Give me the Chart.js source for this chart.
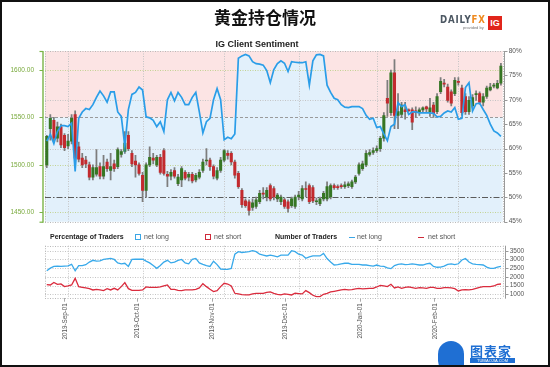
<!DOCTYPE html>
<html>
<head>
<meta charset="utf-8">
<script src="https://cdn.jsdelivr.net/npm/chart.js@4.4.1/dist/chart.umd.min.js"></script>
<style>
html,body{margin:0;padding:0;background:#fff;}
#wrap{position:relative;width:550px;height:367px;overflow:hidden;background:#fff;font-family:"Liberation Sans",Arial,sans-serif;}
#frame{position:absolute;left:0;top:0;width:550px;height:367px;border:2px solid #111;box-sizing:border-box;pointer-events:none;z-index:10;}
canvas{position:absolute;left:0;}
.t{position:absolute;white-space:nowrap;z-index:5;}
</style>
</head>
<body>
<div id="wrap">
  <canvas id="main" width="550" height="230" style="top:0"></canvas>
  <canvas id="bottom" width="550" height="127" style="top:240px"></canvas>

  <div class="t" style="left:0;width:530px;top:4px;text-align:center;font-family:'Noto Sans CJK SC';font-size:17px;font-weight:bold;color:#111;">黄金持仓情况</div>
  <div class="t" style="left:0;width:514px;top:39px;text-align:center;font-size:9px;font-weight:bold;color:#222;">IG Client Sentiment</div>

  <div class="t" style="left:440px;top:12.5px;font-family:'DejaVu Sans';font-size:10.5px;font-weight:bold;letter-spacing:1px;color:#4d5863;transform:scaleX(0.82);transform-origin:0 0;">DAILY<span style="color:#ef8a1f">FX</span></div>
  <div class="t" style="left:463px;top:25px;font-size:4px;color:#777;">provided by</div>
  <div class="t" style="left:488px;top:16px;width:14px;height:14px;background:#e1251b;color:#fff;font-size:9px;font-weight:bold;line-height:14px;text-align:center;">IG</div>

  <div class="t" style="left:50px;top:232.5px;font-size:7px;font-weight:bold;color:#222;">Percentage of Traders</div>
  <div class="t" style="left:135px;top:234px;width:4px;height:4px;border:1.5px solid #3aa6e6;"></div>
  <div class="t" style="left:144px;top:232.5px;font-size:7px;color:#555;">net long</div>
  <div class="t" style="left:205px;top:234px;width:4px;height:4px;border:1.5px solid #cf2a3a;"></div>
  <div class="t" style="left:214px;top:232.5px;font-size:7px;color:#555;">net short</div>
  <div class="t" style="left:275px;top:232.5px;font-size:7px;font-weight:bold;color:#222;">Number of Traders</div>
  <div class="t" style="left:349px;top:236.5px;width:6px;height:1.6px;background:#3aa6e6;"></div>
  <div class="t" style="left:357px;top:232.5px;font-size:7px;color:#555;">net long</div>
  <div class="t" style="left:418px;top:236.5px;width:6px;height:1.6px;background:#cf2a3a;"></div>
  <div class="t" style="left:428px;top:232.5px;font-size:7px;color:#555;">net short</div>

  <div class="t" style="left:438px;top:341px;width:26px;height:30px;border-radius:13px 13px 4px 10px;background:#1f6fd3;"></div>
  <div class="t" style="left:470px;top:341px;font-family:'Noto Sans CJK SC';font-size:13px;font-weight:bold;color:#1f6fd3;letter-spacing:1px;">图表家</div>
  <div class="t" style="left:470px;top:358px;width:45px;height:5px;background:#1f6fd3;color:#fff;font-size:4px;line-height:5px;text-align:center;">TUBIAOJIA.COM</div>

  <div id="frame"></div>
</div>
<script>
// ---------- categories (trading days) ----------
const dates = [
'2019-08-23','2019-08-26','2019-08-27','2019-08-28','2019-08-29','2019-08-30',
'2019-09-02','2019-09-03','2019-09-04','2019-09-05','2019-09-06','2019-09-09','2019-09-10','2019-09-11','2019-09-12','2019-09-13','2019-09-16','2019-09-17','2019-09-18','2019-09-19','2019-09-20','2019-09-23','2019-09-24','2019-09-25','2019-09-26','2019-09-27','2019-09-30',
'2019-10-01','2019-10-02','2019-10-03','2019-10-04','2019-10-07','2019-10-08','2019-10-09','2019-10-10','2019-10-11','2019-10-14','2019-10-15','2019-10-16','2019-10-17','2019-10-18','2019-10-21','2019-10-22','2019-10-23','2019-10-24','2019-10-25','2019-10-28','2019-10-29','2019-10-30','2019-10-31',
'2019-11-01','2019-11-04','2019-11-05','2019-11-06','2019-11-07','2019-11-08','2019-11-11','2019-11-12','2019-11-13','2019-11-14','2019-11-15','2019-11-18','2019-11-19','2019-11-20','2019-11-21','2019-11-22','2019-11-25','2019-11-26','2019-11-27','2019-11-28','2019-11-29',
'2019-12-02','2019-12-03','2019-12-04','2019-12-05','2019-12-06','2019-12-09','2019-12-10','2019-12-11','2019-12-12','2019-12-13','2019-12-16','2019-12-17','2019-12-18','2019-12-19','2019-12-20','2019-12-23','2019-12-24','2019-12-25','2019-12-26','2019-12-27','2019-12-30','2019-12-31',
'2020-01-01','2020-01-02','2020-01-03','2020-01-06','2020-01-07','2020-01-08','2020-01-09','2020-01-10','2020-01-13','2020-01-14','2020-01-15','2020-01-16','2020-01-17','2020-01-20','2020-01-21','2020-01-22','2020-01-23','2020-01-24','2020-01-27','2020-01-28','2020-01-29','2020-01-30','2020-01-31',
'2020-02-03','2020-02-04','2020-02-05','2020-02-06','2020-02-07','2020-02-10','2020-02-11','2020-02-12','2020-02-13','2020-02-14','2020-02-17','2020-02-18','2020-02-19'
];

// ---------- gold price OHLC ----------
const open = [1500,1538,1547,1528,1540,1531,1520,1525,1553,1519,1507,1505,1500,1487,1490,1498,1488,1503,1494,1501,1498,1511,1514,1531,1512,1504,1500,1489,1473,1500,1507,1500,1508,1515,1490,1488,1494,1480,1484,1492,1487,1490,1484,1487,1494,1504,1505,1498,1486,1494,1505,1512,1512,1503,1491,1473,1462,1461,1455,1456,1461,1470,1466,1478,1475,1464,1461,1463,1461,1457,1456,1466,1464,1475,1478,1476,1461,1459,1464,1464,1466,1478,1477,1478,1477,1478,1477,1482,1491,1496,1500,1511,1513,1515,1517,1528,1570,1555,1597,1552,1553,1558,1558,1558,1557,1555,1558,1561,1556,1563,1556,1577,1586,1582,1577,1575,1588,1581,1572,1556,1562,1574,1575,1566,1572,1579,1583,1581,1586];
const high = [1531,1553,1550,1545,1543,1533,1532,1553,1557,1524,1512,1509,1503,1500,1516,1502,1510,1506,1512,1505,1518,1516,1535,1535,1515,1510,1502,1492,1502,1519,1512,1510,1511,1517,1493,1495,1497,1490,1498,1494,1492,1492,1491,1495,1506,1517,1507,1500,1497,1508,1516,1515,1514,1505,1493,1475,1464,1463,1464,1466,1473,1476,1476,1480,1477,1470,1468,1465,1463,1466,1468,1472,1478,1482,1480,1478,1465,1466,1472,1482,1480,1480,1479,1480,1482,1482,1484,1489,1502,1504,1515,1516,1518,1520,1530,1555,1589,1600,1611,1575,1566,1566,1559,1560,1561,1560,1561,1562,1570,1566,1575,1592,1590,1585,1579,1592,1592,1584,1575,1572,1574,1578,1577,1575,1583,1586,1586,1589,1607];
const low = [1497,1526,1525,1524,1518,1515,1517,1522,1504,1503,1497,1497,1484,1484,1488,1485,1485,1493,1484,1493,1496,1508,1512,1515,1498,1487,1489,1461,1466,1498,1501,1498,1490,1489,1477,1484,1486,1478,1477,1484,1483,1481,1482,1485,1492,1500,1494,1485,1484,1492,1503,1506,1500,1486,1475,1455,1455,1447,1452,1454,1459,1464,1462,1462,1463,1461,1458,1454,1450,1455,1454,1463,1462,1466,1459,1460,1458,1457,1462,1462,1464,1474,1474,1475,1475,1476,1475,1480,1489,1494,1498,1509,1511,1513,1514,1525,1551,1552,1538,1538,1550,1548,1556,1537,1550,1552,1556,1556,1551,1550,1554,1575,1582,1566,1562,1573,1584,1552,1553,1553,1560,1568,1564,1562,1570,1578,1581,1580,1584];
const close = [1530,1549,1528,1540,1521,1518,1525,1549,1507,1506,1500,1501,1487,1497,1497,1488,1498,1496,1498,1496,1516,1514,1523,1517,1501,1500,1491,1473,1500,1508,1505,1508,1492,1491,1488,1492,1488,1487,1496,1486,1490,1483,1489,1492,1503,1505,1498,1488,1494,1505,1515,1510,1503,1489,1477,1458,1457,1452,1460,1463,1470,1469,1473,1464,1466,1468,1466,1456,1454,1464,1466,1468,1475,1474,1461,1462,1462,1464,1470,1477,1478,1476,1476,1477,1479,1480,1482,1487,1500,1501,1512,1513,1515,1517,1528,1552,1565,1597,1552,1556,1563,1556,1557,1545,1555,1558,1560,1559,1560,1554,1572,1588,1585,1568,1565,1589,1587,1555,1556,1568,1571,1575,1566,1572,1581,1582,1584,1586,1604];

// ---------- IG client sentiment: % of traders net long ----------
const pctLong = [61.5,62.9,61,63.5,64.7,64.7,64.5,65.2,55.3,66.2,67.5,68.2,68,69,70.5,71.8,70.8,69.5,71.6,71.6,67.5,66.6,60.5,68,71.1,71.5,72.6,72,66.5,66.3,65.8,64.5,65.5,63.5,70,71.5,69.8,71.5,70.5,69,69,70.5,71.5,67.5,63.2,65.5,66.2,70,72.3,70,61.8,62.3,62,63,78.5,79,79.3,79,77.8,77.4,77.3,77.1,76,73.5,76.2,77.4,78,77.5,75.8,77.8,77.7,77.6,77.6,77.8,73,78,79.2,79.3,79,73,71.5,70.3,70,69,68.5,68.4,68.6,68.6,68.6,68.2,66.8,66,66.2,64.3,64.5,63,61.6,64.5,65,69.4,68.6,69,67,67.5,67.5,67.3,67.3,67.3,67.3,67.2,66.5,66.6,67.3,67.7,67.5,68.4,66,66.2,72.5,73.5,67.7,69.2,69.3,68,66.8,65,63.6,63.2,62.5];

// ---------- number of traders ----------
const longTraders = [2350,2500,2600,2620,2600,2620,2630,2720,2350,2650,2650,2700,2850,2950,2900,2920,3000,3030,3064,3000,2800,2750,2780,2600,3000,3010,3010,3010,2900,2800,2650,2490,2650,2850,2950,2800,2850,2950,3000,2800,2750,3000,3060,2800,2720,2650,2600,2900,2700,2450,2433,2433,2480,3300,3443,3400,3420,3443,3500,3450,3300,3250,3200,3250,3200,3150,3250,3250,3250,3500,3450,3300,3250,3064,3150,3200,3200,3200,3350,3050,2850,2680,2700,2750,2780,2780,2720,2720,2720,2680,2680,2650,2620,2680,2620,2600,2520,2470,2650,2720,2750,2700,2720,2750,2720,2680,2680,2750,2780,2600,2550,2560,2620,2720,2750,2700,2750,2967,3050,2850,2750,2720,2700,2680,2560,2490,2490,2560,2600];
const shortTraders = [1550,1531,1680,1570,1590,1436,1474,1531,1913,1436,1397,1360,1320,1245,1283,1245,1207,1320,1245,1340,1245,1436,1665,1320,1226,1226,1226,1245,1417,1397,1397,1397,1417,1474,1531,1283,1283,1226,1207,1245,1245,1245,1283,1360,1608,1436,1283,1149,1207,1436,1627,1588,1474,1054,1016,978,958,958,1016,1054,1054,1054,1111,1130,1054,997,958,1016,997,958,1054,1035,1016,1207,1092,939,862,862,997,1054,1130,1168,1207,1245,1283,1245,1264,1302,1340,1302,1320,1340,1340,1417,1512,1474,1436,1570,1360,1417,1340,1397,1417,1378,1340,1378,1360,1340,1397,1397,1340,1340,1378,1378,1360,1320,1188,1245,1264,1245,1283,1340,1397,1436,1436,1436,1474,1570,1588];

// ---------- tick labels & reference levels ----------
const priceTicks = [1450, 1500, 1550, 1600];
const pctTickStep = 5;
const pctGridLines = [60, 70];
const bandPrice = 1550;      // pink band above this level
const evenPct = 50;          // 50% reference line
const traderTicks = [1000, 1500, 2000, 2500, 3000, 3500];
const dateTickLabels = ['2019-Sep-01','2019-Oct-01','2019-Nov-01','2019-Dec-01','2020-Jan-01','2020-Feb-01'];
const dateTickDays = [0, 30, 61, 91, 122, 153]; // days since 2019-09-01

const monthStarts = [];
for (let i = 1; i < dates.length; i++) if (dates[i].slice(0,7) !== dates[i-1].slice(0,7)) monthStarts.push(i);

Chart.defaults.font.family = '"Liberation Sans", Arial, sans-serif';
Chart.defaults.animation = false;

function line(ctx, x1, y1, x2, y2, color, dash, w) {
  ctx.save();
  ctx.strokeStyle = color; ctx.lineWidth = w || 1; ctx.setLineDash(dash || []);
  ctx.beginPath(); ctx.moveTo(x1, y1); ctx.lineTo(x2, y2); ctx.stroke();
  ctx.restore();
}
const r5 = v => Math.round(v) + 0.5;
const DOT = [1, 1.5];
const NOTICK = 'rgba(0,0,0,0)';

const decorMain = {
  id: 'decorMain',
  beforeDraw(chart) {
    const {ctx, chartArea: a, scales} = chart;
    const ys = scales.yPrice.getPixelForValue(bandPrice);
    ctx.save();
    ctx.fillStyle = '#fce4e4';
    ctx.fillRect(a.left, a.top, a.right - a.left, ys - a.top);
    ctx.fillStyle = '#e6f3fc';
    ctx.fillRect(a.left, ys, a.right - a.left, a.bottom - ys);
    ctx.restore();
  },
  beforeDatasetsDraw(chart) {
    const {ctx, chartArea: a, scales} = chart;
    const yP = scales.yPrice, yC = scales.yPct, x = scales.x;
    priceTicks.forEach(v => {
      if (v === bandPrice) return;
      const y = r5(yP.getPixelForValue(v));
      line(ctx, a.left, y, a.right, y, '#c3d392', DOT, 1);
    });
    pctGridLines.forEach(v => {
      const y = r5(yC.getPixelForValue(v));
      line(ctx, a.left, y, a.right, y, '#c4c4c4', DOT, 1);
    });
    monthStarts.forEach(i => {
      const px = r5(x.getPixelForValue(i));
      line(ctx, px, a.top, px, a.bottom, '#c4c4c4', DOT, 1);
    });
    const yb = r5(yP.getPixelForValue(bandPrice));
    line(ctx, a.left, yb, a.right, yb, '#9a9a9a', [3, 2], 1);
    const y50 = r5(yC.getPixelForValue(evenPct));
    line(ctx, a.left, y50, a.right, y50, '#5a5a5a', [6, 2, 1.5, 2], 1.2);
    line(ctx, a.left, r5(a.top), a.right, r5(a.top), '#b8b8b8', DOT, 1);
    line(ctx, a.left, r5(a.bottom), a.right, r5(a.bottom), '#b8b8b8', DOT, 1);
    line(ctx, r5(a.left), a.top, r5(a.left), a.bottom, '#b8b8b8', DOT, 1);
    line(ctx, r5(a.right), a.top, r5(a.right), a.bottom, '#b8b8b8', DOT, 1);
  },
  afterDraw(chart) {
    const {ctx, chartArea: a, scales} = chart;
    const yP = scales.yPrice, yC = scales.yPct;
    const lx = a.left - 2;
    line(ctx, lx, a.top, lx, a.bottom + 1, '#79b447', [], 1.4);
    line(ctx, lx - 3.5, a.top + 0.5, lx, a.top + 0.5, '#79b447', [], 1.2);
    line(ctx, lx - 3.5, a.bottom + 0.5, lx, a.bottom + 0.5, '#79b447', [], 1.2);
    priceTicks.forEach(v => {
      const y = r5(yP.getPixelForValue(v));
      line(ctx, lx - 3.5, y, lx, y, '#79b447', [], 1);
    });
    const rx = r5(a.right + 1);
    line(ctx, rx, a.top, rx, a.bottom + 1, '#9a9a9a', [], 1);
    yC.ticks.forEach(t => {
      const y = r5(yC.getPixelForValue(t.value));
      line(ctx, rx, y, rx + 3, y, '#9a9a9a', [], 1);
    });
  }
};

const green = '#367624', red = '#c22a2e';

new Chart(document.getElementById('main'), {
  type: 'bar',
  data: {
    labels: dates,
    datasets: [
      { type: 'line', label: 'net long %', data: pctLong, yAxisID: 'yPct',
        borderColor: '#2a9de8', borderWidth: 1.7, pointRadius: 0, tension: 0,
        fill: 'start', backgroundColor: '#e2f0fb', order: 0 },
      { label: 'body', data: open.map((o, i) => [o, close[i]]), yAxisID: 'yPrice',
        backgroundColor: ctx => (close[ctx.dataIndex] >= open[ctx.dataIndex] ? green : red),
        barThickness: 2.4, minBarLength: 1, grouped: false, order: 1 },
      { label: 'wick', data: low.map((l, i) => [l, high[i]]), yAxisID: 'yPrice',
        backgroundColor: '#7d7d7d', barThickness: 1.1, grouped: false, order: 2 }
    ]
  },
  options: {
    responsive: false, events: [],
    layout: { padding: { top: 51, bottom: 8.3, left: 0, right: 0 } },
    plugins: { legend: { display: false }, tooltip: { enabled: false }, filler: { drawTime: 'beforeDatasetsDraw' } },
    scales: {
      x: { type: 'category', offset: true, display: false },
      yPrice: { type: 'linear', position: 'left', min: 1440, max: 1620,
        afterBuildTicks: s => { s.ticks = priceTicks.map(v => ({ value: v })); },
        ticks: { callback: v => Number(v).toFixed(2), color: '#78a93b', font: { size: 6.5 }, padding: 1 },
        grid: { drawOnChartArea: false, drawTicks: true, tickLength: 10, tickColor: NOTICK }, border: { display: false },
        afterFit: s => { s.width = 45; } },
      yPct: { type: 'linear', position: 'right', min: 45, max: 80,
        ticks: { stepSize: pctTickStep, autoSkip: false, callback: v => v + '%', color: '#555', font: { size: 6.5 }, padding: 1 },
        grid: { drawOnChartArea: false, drawTicks: true, tickLength: 5, tickColor: NOTICK }, border: { display: false },
        afterFit: s => { s.width = 47.3; } }
    }
  },
  plugins: [decorMain]
});

const decorBottom = {
  id: 'decorBottom',
  beforeDatasetsDraw(chart) {
    const {ctx, chartArea: a, scales} = chart;
    const y = scales.yNum, x = scales.x;
    traderTicks.forEach(v => {
      const py = r5(y.getPixelForValue(v));
      line(ctx, a.left, py, a.right, py, '#c4c4c4', DOT, 1);
    });
    monthStarts.forEach(i => {
      const px = r5(x.getPixelForValue(i));
      line(ctx, px, a.top, px, a.bottom, '#c4c4c4', DOT, 1);
    });
    line(ctx, a.left, r5(a.top), a.right, r5(a.top), '#b8b8b8', DOT, 1);
    line(ctx, a.left, r5(a.bottom), a.right, r5(a.bottom), '#b8b8b8', DOT, 1);
    line(ctx, r5(a.left), a.top, r5(a.left), a.bottom, '#b8b8b8', DOT, 1);
    line(ctx, r5(a.right), a.top, r5(a.right), a.bottom, '#b8b8b8', DOT, 1);
  },
  afterDraw(chart) {
    const {ctx, chartArea: a, scales} = chart;
    const y = scales.yNum;
    const rx = r5(a.right + 2);
    line(ctx, rx, a.top, rx, a.bottom + 1, '#9a9a9a', [], 1);
    traderTicks.forEach(v => {
      const py = r5(y.getPixelForValue(v));
      line(ctx, rx, py, rx + 3, py, '#9a9a9a', [], 1);
    });
  }
};

new Chart(document.getElementById('bottom'), {
  type: 'line',
  data: {
    labels: dates,
    datasets: [
      { label: 'net long', data: longTraders, yAxisID: 'yNum', borderColor: '#38a9ea', borderWidth: 1.3, pointRadius: 0, tension: 0, fill: false },
      { label: 'net short', data: shortTraders, yAxisID: 'yNum', borderColor: '#da2b3d', borderWidth: 1.3, pointRadius: 0, tension: 0, fill: false }
    ]
  },
  options: {
    responsive: false, events: [],
    layout: { padding: { top: 5.7, bottom: 19.3, left: 45, right: 0 } },
    plugins: { legend: { display: false }, tooltip: { enabled: false } },
    scales: {
      x: { type: 'category', offset: true, display: false },
      xDate: { type: 'linear', position: 'bottom', min: -8.27, max: 181,
        afterBuildTicks: s => { s.ticks = dateTickDays.map(v => ({ value: v })); },
        ticks: { autoSkip: false, minRotation: 90, maxRotation: 90, color: '#555', font: { size: 6.3 }, padding: 1.5,
          callback: (v, i) => dateTickLabels[i] },
        grid: { drawOnChartArea: false, drawTicks: true, tickLength: 4, color: '#aaa' },
        border: { display: false },
        afterFit: s => { s.height = 50; } },
      yNum: { type: 'linear', position: 'right', min: 800, max: 3790,
        afterBuildTicks: s => { s.ticks = traderTicks.map(v => ({ value: v })); },
        ticks: { autoSkip: false, callback: v => String(v), color: '#555', font: { size: 6.5 }, padding: 1 },
        grid: { drawOnChartArea: false, drawTicks: true, tickLength: 6, tickColor: NOTICK }, border: { display: false },
        afterFit: s => { s.width = 47.3; } }
    }
  },
  plugins: [decorBottom]
});
</script>
</body>
</html>
